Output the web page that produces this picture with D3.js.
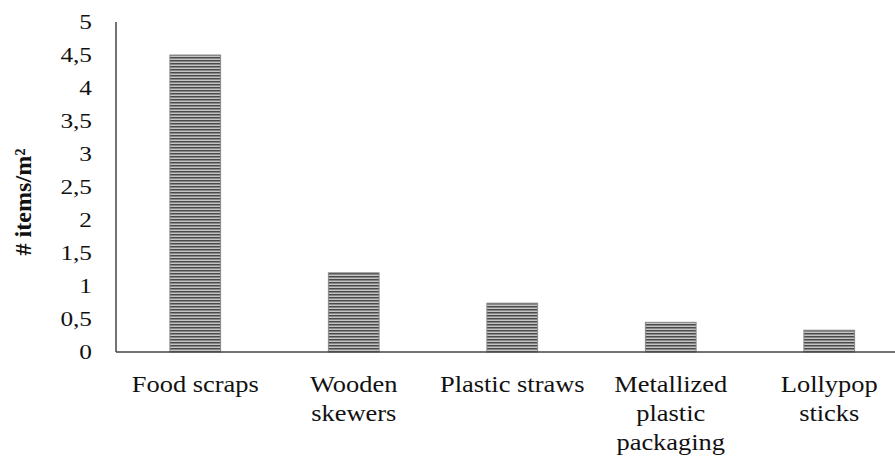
<!DOCTYPE html>
<html><head><meta charset="utf-8">
<script src="https://cdn.jsdelivr.net/npm/d3@7"></script>
</head><body style="margin:0;background:#fff"><div id="c"></div>
<script>
const categories = ["Food scraps", "Wooden skewers", "Plastic straws", "Metallized plastic packaging", "Lollypop sticks"];
const labelLines = [["Food scraps"], ["Wooden", "skewers"], ["Plastic straws"], ["Metallized", "plastic", "packaging"], ["Lollypop", "sticks"]];
const values = [4.5, 1.2, 0.74, 0.45, 0.33];
const yTicks = [0, 0.5, 1, 1.5, 2, 2.5, 3, 3.5, 4, 4.5, 5];
const yTitle = "# items/m²";

const FONT = "Liberation Serif";
const W = 895, H = 461;
const svg = d3.select("#c").append("svg").attr("width", W).attr("height", H)
  .attr("font-family", FONT).style("display", "block");
const defs = svg.append("defs");
const pat = defs.append("pattern").attr("id", "hstripe").attr("patternUnits", "userSpaceOnUse")
  .attr("width", 6).attr("height", 3);
pat.append("rect").attr("width", 6).attr("height", 3).attr("fill", "#c4c4c4");
pat.append("rect").attr("y", 0).attr("width", 6).attr("height", 1.5).attr("fill", "#4a4a4a");

const x0 = 116, y0 = 352;
const x = d3.scaleBand().domain(categories).range([x0, x0 + 158.5 * 5]).paddingInner(0.68).paddingOuter(0.34);
const y = d3.scaleLinear().domain([0, 5]).range([y0, 22]);

// bars
svg.append("g").selectAll("rect").data(values).join("rect")
  .attr("x", (d, i) => x(categories[i]))
  .attr("y", d => y(d))
  .attr("width", x.bandwidth())
  .attr("height", d => y0 - y(d))
  .attr("fill", "url(#hstripe)")
  .attr("stroke", "#8a8a8a").attr("stroke-width", 1);

// y axis (line + ticks via scale)
const yAxis = d3.axisLeft(y).tickValues(yTicks).tickSize(0).tickFormat("");
const gy = svg.append("g").attr("transform", `translate(${x0},0)`).call(yAxis);
gy.select(".domain").attr("stroke", "#444").attr("stroke-width", 1.5).attr("d", `M0,${y0}V${y(5)}`);

const tl = svg.append("g");
yTicks.forEach(t => {
  tl.append("text")
    .attr("transform", `translate(${x0 - 24},${y(t) + 7}) scale(1.15,1)`)
    .attr("text-anchor", "end").attr("font-size", 22).attr("fill", "#111")
    .attr("font-family", FONT)
    .text(String(t).replace(".", ","));
});

// x axis
const xAxis = d3.axisBottom(x).tickSize(0).tickFormat("");
const gx = svg.append("g").attr("transform", `translate(0,${y0})`).call(xAxis);
gx.select(".domain").attr("stroke", "#444").attr("stroke-width", 1.5).attr("d", `M${x0},0H${W}`);

// x labels
const lg = svg.append("g");
categories.forEach((c, i) => {
  const cx = x(c) + x.bandwidth() / 2;
  labelLines[i].forEach((ln, j) => {
    lg.append("text")
      .attr("transform", `translate(${cx},${392 + j * 29}) scale(1.15,1)`)
      .attr("text-anchor", "middle").attr("font-size", 23).attr("fill", "#111")
      .attr("font-family", FONT).text(ln);
  });
});

// y title
svg.append("text").attr("transform", `translate(31,202) rotate(-90) scale(1.05,1)`)
  .attr("text-anchor", "middle").attr("font-size", 23).attr("font-weight", "bold")
  .attr("fill", "#111").attr("font-family", FONT).text(yTitle);
</script></body></html>
